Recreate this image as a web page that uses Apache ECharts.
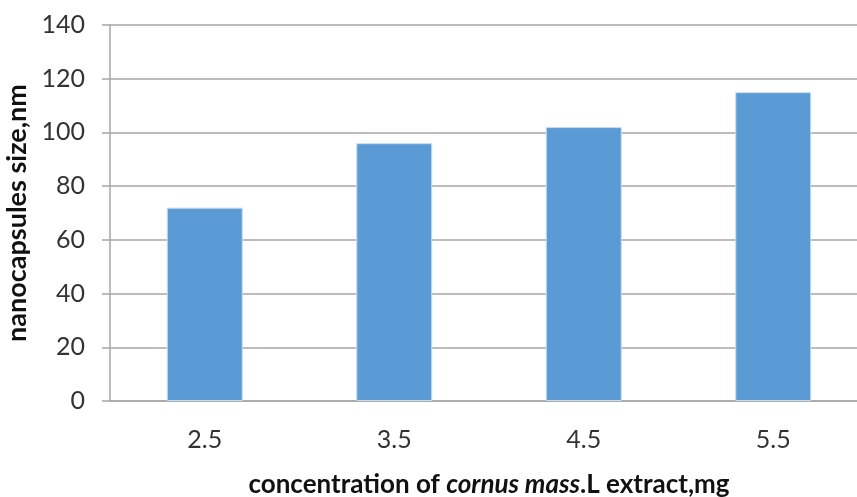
<!DOCTYPE html>
<html><head><meta charset="utf-8">
<script src="https://cdn.jsdelivr.net/npm/echarts@6/dist/echarts.min.js"></script>
<style>html,body{margin:0;padding:0;background:#fff}#c{width:857px;height:497px}</style>
</head><body><div id="c"></div>
<script>
const categories = ['2.5', '3.5', '4.5', '5.5'];
const sizes = [72, 96, 102, 115];
const yTicks = {min: 0, max: 140, interval: 20};

const chart = echarts.init(document.getElementById('c'));
chart.setOption({
  animation: false,
  grid: {left: 110, right: -11, top: 25, bottom: 96, containLabel: false, outerBoundsMode: 'none'},
  xAxis: {
    type: 'category', data: categories,
    axisLine: {lineStyle: {color: '#A6A6A6', width: 1.5}},
    axisTick: {show: false},
    axisLabel: {fontFamily: 'Lato', fontSize: 25, color: '#333', margin: 26},
    name: '{b|concentration of }{i|cornus mass}{b|.L extract,mg}',
    nameLocation: 'middle', nameGap: 71,
    nameTextStyle: {
      rich: {
        b: {fontFamily: 'Lato', fontWeight: 'bold', fontSize: 26, color: '#111'},
        i: {fontFamily: 'Lato', fontWeight: 'bold', fontStyle: 'italic', fontSize: 26, color: '#111'}
      }
    }
  },
  yAxis: {
    type: 'value', min: yTicks.min, max: yTicks.max, interval: yTicks.interval,
    axisLine: {show: true, lineStyle: {color: '#A6A6A6', width: 1.5}},
    axisTick: {show: true, length: 8, lineStyle: {color: '#A6A6A6', width: 1.5}},
    splitLine: {lineStyle: {color: '#A6A6A6', width: 1.5}},
    axisLabel: {fontFamily: 'Lato', fontSize: 25, color: '#333', margin: 25},
    name: 'nanocapsules size,nm', nameLocation: 'middle', nameGap: 77,
    nameTextStyle: {fontFamily: 'Lato', fontWeight: 'bold', fontSize: 27, color: '#111'}
  },
  series: [{
    type: 'bar', data: sizes, barWidth: 76,
    itemStyle: {color: '#5B9BD5', borderColor: '#C9DDF1', borderWidth: 1}
  }]
});
</script></body></html>
